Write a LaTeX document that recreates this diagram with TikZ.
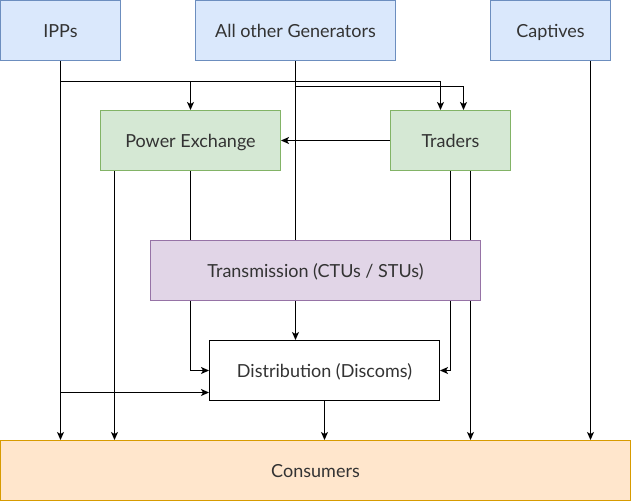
\documentclass[tikz,border=0pt]{standalone}
\usepackage{fontspec}
\setmainfont{Lato}
\usetikzlibrary{arrows.meta,backgrounds}
\definecolor{bfill}{HTML}{DAE8FC}\definecolor{bdraw}{HTML}{6C8EBF}
\definecolor{gfill}{HTML}{D5E8D4}\definecolor{gdraw}{HTML}{82B366}
\definecolor{pfill}{HTML}{E1D5E7}\definecolor{pdraw}{HTML}{9673A6}
\definecolor{ofill}{HTML}{FFE6CC}\definecolor{odraw}{HTML}{D79B00}
\definecolor{txt}{HTML}{333333}
\tikzset{
  box/.style={rectangle, inner sep=0pt, line width=1pt, text=txt, font=\fontsize{18}{21}\selectfont, text height=16pt, text depth=2pt},
  bluebox/.style={box, fill=bfill, draw=bdraw},
  greenbox/.style={box, fill=gfill, draw=gdraw},
  purplebox/.style={box, fill=pfill, draw=pdraw},
  orangebox/.style={box, fill=ofill, draw=odraw},
  whitebox/.style={box, fill=white, draw=black},
  conn/.style={line width=1pt, draw=black},
  arr/.style={conn, -{Stealth[length=8pt,width=7pt,inset=2pt]}},
}
\begin{document}
\begin{tikzpicture}[x=1pt,y=-1pt]
\useasboundingbox (0,0) rectangle (631,501);
\node[bluebox, minimum width=120pt, minimum height=60pt] (ipp) at (60.5,30.5) {IPPs};
\node[bluebox, minimum width=200pt, minimum height=60pt] (gen) at (295.5,30.5) {All other Generators};
\node[bluebox, minimum width=120pt, minimum height=60pt] (cap) at (550.5,30.5) {Captives};
\node[greenbox, minimum width=180pt, minimum height=60pt] (pe) at (190.5,140.5) {Power Exchange};
\node[greenbox, minimum width=120pt, minimum height=60pt] (tr) at (450.5,140.5) {Traders};
\node[purplebox, minimum width=330pt, minimum height=60pt] (trans) at (315.5,270.5) {Transmission (CTUs / STUs)};
\node[whitebox, minimum width=230pt, minimum height=60pt] (dist) at (324.5,370.5) {Distribution (Discoms)};
\node[orangebox, minimum width=630pt, minimum height=60pt] (cons) at (315.5,470.5) {Consumers};
\begin{scope}[on background layer]
\draw[arr] (ipp.south) -- ++(0,20) -| (pe.north);
\draw[arr] (ipp.south) -- ++(0,20) -| ([xshift=-10pt]tr.north);
\draw[arr] (gen.south) -- ++(0,25) -| ([xshift=13pt]tr.north);
\draw[arr] (gen.south) -- (gen.south |- dist.north);
\draw[arr] (tr.west) -- (pe.east);
\draw[arr] (pe.south) |- (dist.west);
\draw[arr] ([xshift=-76pt]pe.south) -- ([xshift=-76pt]pe.south |- cons.north);
\draw[arr] (ipp.south) -- (ipp.south |- cons.north);
\draw[arr] (ipp.south) |- ([yshift=-22pt]dist.west);
\draw[arr] (tr.south) |- (dist.east);
\draw[arr] ([xshift=20pt]tr.south) -- ([xshift=20pt]tr.south |- cons.north);
\draw[arr] (dist.south) -- (dist.south |- cons.north);
\draw[arr] ([xshift=40pt]cap.south) -- ([xshift=40pt]cap.south |- cons.north);
\end{scope}
\end{tikzpicture}
\end{document}
